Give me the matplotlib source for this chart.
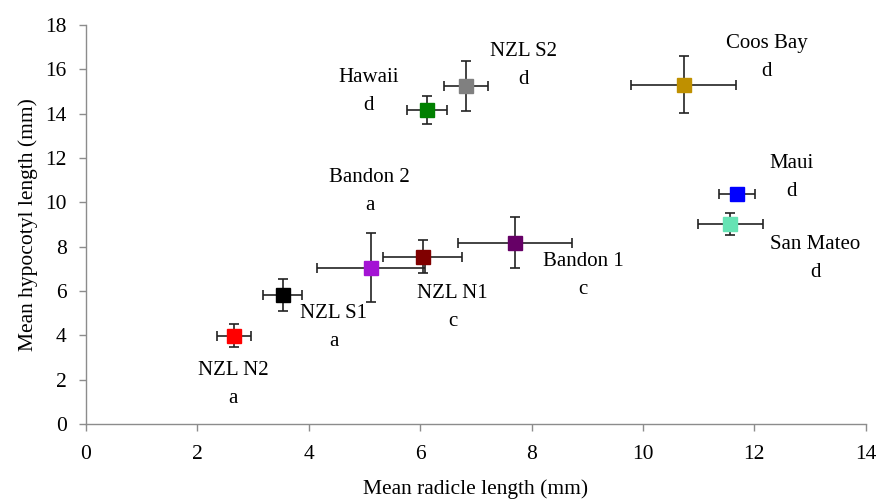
import matplotlib
matplotlib.use("Agg")
import matplotlib.pyplot as plt

# population means with standard errors
populations = ["NZL N2", "NZL S1", "Bandon 2", "NZL N1", "Bandon 1",
               "Hawaii", "NZL S2", "Coos Bay", "Maui", "San Mateo"]
groups = ["a", "a", "a", "c", "c", "d", "d", "d", "d", "d"]
radicle = [2.66, 3.53, 5.11, 6.05, 7.70, 6.12, 6.82, 10.73, 11.69, 11.57]
radicle_err = [0.30, 0.35, 0.97, 0.71, 1.02, 0.36, 0.40, 0.94, 0.33, 0.58]
hypocotyl = [3.98, 5.82, 7.05, 7.55, 8.18, 14.16, 15.26, 15.31, 10.38, 9.01]
hypocotyl_err = [0.52, 0.73, 1.55, 0.75, 1.16, 0.63, 1.13, 1.28, 0.12, 0.49]

colors = ["#FF0000", "#000000", "#A414D4", "#800000", "#660066",
          "#008000", "#808080", "#BF9000", "#0000FF", "#66E3B4"]

# where the two-line labels sit (data coords)
label_x = [2.64, 4.45, 5.09, 6.58, 8.93, 5.08, 7.86, 12.22, 12.67, 13.10]
label_y = [1.80, 4.37, 10.50, 5.28, 6.72, 15.01, 16.18, 16.52, 11.12, 7.48]

plt.rcParams['font.family'] = ['Liberation Serif', 'DejaVu Serif']

fig = plt.figure(figsize=(8.8, 4.99), dpi=100)
ax = fig.add_axes([0.0977, 0.150, 0.886, 0.800])

for i in range(len(populations)):
    ax.errorbar(radicle[i], hypocotyl[i],
                xerr=radicle_err[i], yerr=hypocotyl_err[i],
                fmt='s', color=colors[i], markersize=10,
                ecolor='#222222', elinewidth=1.2, capsize=3.8, capthick=1.2)
    ax.text(label_x[i], label_y[i], populations[i] + "\n" + groups[i],
            ha='center', va='center', fontsize=15, linespacing=1.65)

ax.set_xlim(0, 14)
ax.set_ylim(0, 18)
ax.set_xticks(range(0, 15, 2))
ax.set_yticks(range(0, 19, 2))

for side in ['top', 'right']:
    ax.spines[side].set_visible(False)
for side in ['left', 'bottom']:
    ax.spines[side].set_color('#8c8c8c')
    ax.spines[side].set_linewidth(1.0)

ax.tick_params(axis='both', colors='#8c8c8c', labelcolor='black',
               labelsize=15.5, length=5, width=1.0, direction='out')
ax.tick_params(axis='y', pad=9)
ax.tick_params(axis='x', pad=10)

ax.set_xlabel("Mean radicle length (mm)", fontsize=15.5, labelpad=11)
ax.set_ylabel("Mean hypocotyl length (mm)", fontsize=15.5, labelpad=5)

fig.savefig("out.png", dpi=100)
